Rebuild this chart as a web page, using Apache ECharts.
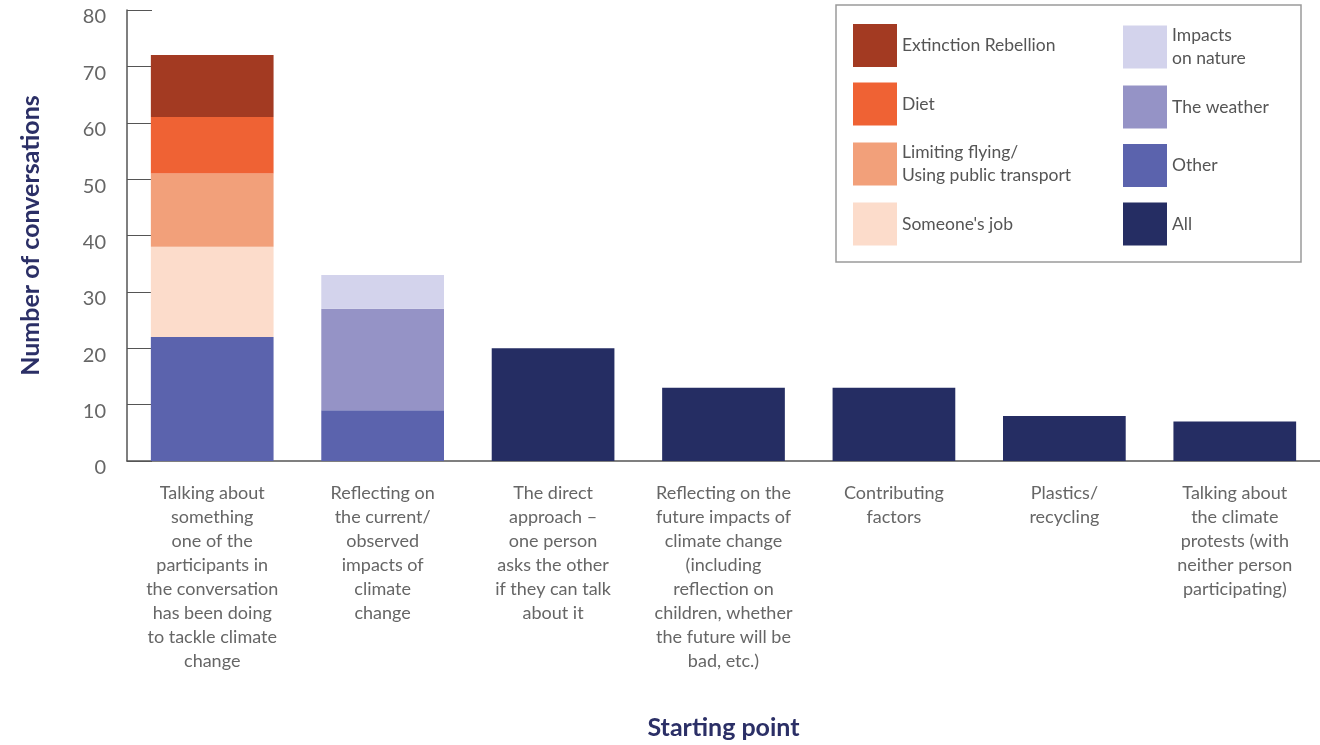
<!DOCTYPE html>
<html>
<head>
<meta charset="utf-8">
<script src="https://cdn.jsdelivr.net/npm/echarts@6/dist/echarts.min.js"></script>
<style>
  html, body { margin: 0; padding: 0; background: #fff; }
  #main { width: 1320px; height: 745px; }
</style>
</head>
<body>
<div id="main"></div>
<script>
var categories = [
  'Talking about\nsomething\none of the\nparticipants in\nthe conversation\nhas been doing\nto tackle climate\nchange',
  'Reflecting on\nthe current/\nobserved\nimpacts of\nclimate\nchange',
  'The direct\napproach –\none person\nasks the other\nif they can talk\nabout it',
  'Reflecting on the\nfuture impacts of\nclimate change\n(including\nreflection on\nchildren, whether\nthe future will be\nbad, etc.)',
  'Contributing\nfactors',
  'Plastics/\nrecycling',
  'Talking about\nthe climate\nprotests (with\nneither person\nparticipating)'
];
var yTicks = [0, 10, 20, 30, 40, 50, 60, 70, 80];

// stacked from the bottom up
var otherVals = [22, 9, '-', '-', '-', '-', '-'];
var jobVals = [16, '-', '-', '-', '-', '-', '-'];
var flyingVals = [13, '-', '-', '-', '-', '-', '-'];
var dietVals = [10, '-', '-', '-', '-', '-', '-'];
var xrVals = [11, '-', '-', '-', '-', '-', '-'];
var weatherVals = ['-', 18, '-', '-', '-', '-', '-'];
var natureVals = ['-', 6, '-', '-', '-', '-', '-'];
var allVals = ['-', '-', 20, 13, 13, 8, 7];

var legendLeft = ['Extinction Rebellion', 'Diet', 'Limiting flying', "Someone's job"];
var legendRight = ['Impacts on nature', 'The weather', 'Other', 'All'];
var legendText = {
  'Limiting flying': 'Limiting flying/\nUsing public transport',
  'Impacts on nature': 'Impacts\non nature'
};

(function(){
  var myChart = echarts.init(document.getElementById('main'));
  var font = 'Lato, "Open Sans", sans-serif';
  var navy = '#2b2f66';

  function bar(name, data, color) {
    return {
      name: name,
      type: 'bar',
      stack: 'total',
      barWidth: '72%',
      itemStyle: { color: color },
      data: data
    };
  }

  var legendBase = {
    orient: 'vertical',
    top: 19,
    itemWidth: 44,
    itemHeight: 43,
    itemGap: 15.5,
    icon: 'rect',
    selectedMode: false,
    textStyle: { color: '#555', fontSize: 17.5, fontFamily: font, lineHeight: 23 },
    formatter: function (name) { return legendText[name] || name; }
  };

  var option = {
    animation: false,
    textStyle: { fontFamily: font },
    grid: { left: 127, right: 0, top: 10, bottom: 283 },
    legend: [
      Object.assign({}, legendBase, { left: 848, data: legendLeft }),
      Object.assign({}, legendBase, { left: 1118, data: legendRight })
    ],
    graphic: [{
      type: 'rect',
      shape: { x: 836, y: 5, width: 465, height: 257 },
      style: { fill: 'none', stroke: '#9a9a9a', lineWidth: 1.5 }
    }],
    xAxis: {
      type: 'category',
      data: categories,
      name: 'Starting point',
      nameLocation: 'middle',
      nameGap: 254,
      nameTextStyle: { color: navy, fontSize: 25, fontWeight: 'bold', fontFamily: font },
      axisLine: { lineStyle: { color: '#555', width: 1.5 } },
      axisTick: { inside: true, length: 6, lineStyle: { color: '#555' } },
      axisLabel: {
        color: '#666', fontSize: 18, lineHeight: 24, margin: 20,
        interval: 0, fontFamily: font, align: 'center'
      }
    },
    yAxis: {
      type: 'value',
      min: 0,
      max: 80,
      interval: 10,
      name: 'Number of conversations',
      nameLocation: 'middle',
      nameGap: 84,
      nameTextStyle: { color: navy, fontSize: 25, fontWeight: 'bold', fontFamily: font },
      axisLine: { show: true, lineStyle: { color: '#555', width: 1.5 } },
      axisTick: { show: true, inside: true, length: 25, lineStyle: { color: '#555' } },
      splitLine: { show: false },
      axisLabel: {
        color: '#666', fontSize: 20, margin: 21, fontFamily: font,
        verticalAlign: 'top', lineHeight: 14,
        formatter: function (v) { return yTicks.indexOf(v) >= 0 ? String(v) : ''; }
      }
    },
    series: [
      bar('Other', otherVals, '#5b63ad'),
      bar("Someone's job", jobVals, '#fcdccb'),
      bar('Limiting flying', flyingVals, '#f2a07a'),
      bar('Diet', dietVals, '#ef6234'),
      bar('Extinction Rebellion', xrVals, '#a33a22'),
      bar('The weather', weatherVals, '#9593c6'),
      bar('Impacts on nature', natureVals, '#d3d3ec'),
      bar('All', allVals, '#252d63')
    ]
  };
  myChart.setOption(option);
  window.addEventListener('resize', function () {
    myChart.resize();
  });
})();
</script>
</body>
</html>
